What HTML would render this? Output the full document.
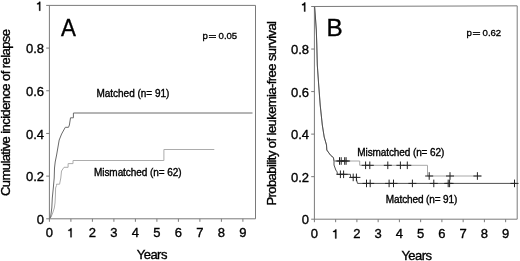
<!DOCTYPE html>
<html><head><meta charset="utf-8"><style>
html,body{margin:0;padding:0;background:#fff;width:520px;height:261px;overflow:hidden}
svg{display:block}
#w{will-change:transform;width:520px;height:261px;background:#fff}
</style></head><body><div id="w">
<svg width="520" height="261" viewBox="0 0 520 261" font-family='"Liberation Sans", sans-serif' fill="#000">
<style>.t{stroke:#000;stroke-width:0.35px}</style>
<rect width="520" height="261" fill="#fff"/>
<path d="M46.2 5.4L255.5 5.4V218.8M46.2 218.8H255.5M49.4 5.4V221.8" stroke="#7a7a7a" stroke-width="1" fill="none"/>
<path d="M46.2 176.12H49.4M46.2 133.44H49.4M46.2 90.76H49.4M46.2 48.08H49.4M70.9 218.8V221.8M92.4 218.8V221.8M113.9 218.8V221.8M135.4 218.8V221.8M156.9 218.8V221.8M178.4 218.8V221.8M199.9 218.8V221.8M221.4 218.8V221.8M242.9 218.8V221.8" stroke="#7a7a7a" stroke-width="1" fill="none"/>
<g class="t">
<text x="44" y="224.1" text-anchor="end" font-size="13">0</text>
<text x="44" y="181.42" text-anchor="end" font-size="13">0.2</text>
<text x="44" y="138.74" text-anchor="end" font-size="13">0.4</text>
<text x="44" y="96.06" text-anchor="end" font-size="13">0.6</text>
<text x="44" y="53.38" text-anchor="end" font-size="13">0.8</text>
<path d="M39.16 10.7H40.26V1.73H39.29C38.9 2.77 37.79 3.42 37.01 3.49V4.33H39.16Z"/>
<text x="49.4" y="237.2" text-anchor="middle" font-size="13">0</text>
<path d="M70.47 237.2H71.58V228.23H70.6C70.21 229.27 69.11 229.92 68.33 229.99V230.83H70.47Z"/>
<text x="92.4" y="237.2" text-anchor="middle" font-size="13">2</text>
<text x="113.9" y="237.2" text-anchor="middle" font-size="13">3</text>
<text x="135.4" y="237.2" text-anchor="middle" font-size="13">4</text>
<text x="156.9" y="237.2" text-anchor="middle" font-size="13">5</text>
<text x="178.4" y="237.2" text-anchor="middle" font-size="13">6</text>
<text x="199.9" y="237.2" text-anchor="middle" font-size="13">7</text>
<text x="221.4" y="237.2" text-anchor="middle" font-size="13">8</text>
<text x="242.9" y="237.2" text-anchor="middle" font-size="13">9</text>
<text transform="translate(10.2 112.5) rotate(-90)" text-anchor="middle" font-size="13" textLength="167">Cumulative incidence of relapse</text>
</g>
<g class="t">
<text transform="translate(61 36) scale(0.93 1)" font-size="24">A</text>
<g style="stroke-width:0.32px">
<text x="202.6" y="39.1" font-size="9.6">p</text>
<path d="M208.9 35.5H216M208.9 37.5H216" stroke-width="0.9"/>
<text x="218.6" y="39.1" font-size="9.6" textLength="18.6">0.05</text>
</g>
<text x="96.5" y="96.6" font-size="10" textLength="72.8">Matched (n= 91)</text>
<text x="94" y="175.6" font-size="10" textLength="87.5">Mismatched (n= 62)</text>
<text x="136.8" y="258.5" font-size="13" textLength="30.6">Years</text>
</g>
<polyline points="49.5,219 51,217 52.7,213 54.3,208 55,203 55.4,196 55.6,188 56.5,185.5 56.5,184.2 59.6,184.2 59.8,183 60.8,178 61.5,171 64,167.3 68.1,167.3 68.1,163.6 73,163.6 73,160.5 163.9,160.5 163.9,149.5 214.3,149.5" fill="none" stroke="#acacac" stroke-width="1"/>
<polyline points="49.5,219 50.6,217 51.8,208 52.3,198 53.3,188 54.2,178 54.5,168 55.2,162 56.6,155 59.2,140 61.6,134 65.3,127.3 68.5,127.3 69.4,125 70.5,117.8 73.4,117.8 73.4,113 252.5,113" fill="none" stroke="#6a6a6a" stroke-width="1"/>
<path d="M311.2 6.5L517.2 5.85V219.2M311.2 219.2H517.2M314.4 6.5V222.2" stroke="#7a7a7a" stroke-width="1" fill="none"/>
<path d="M311.2 176.66H314.4M311.2 134.12H314.4M311.2 91.58H314.4M311.2 49.04H314.4M335.65 219.2V222.2M356.9 219.2V222.2M378.15 219.2V222.2M399.4 219.2V222.2M420.65 219.2V222.2M441.9 219.2V222.2M463.15 219.2V222.2M484.4 219.2V222.2M505.65 219.2V222.2" stroke="#7a7a7a" stroke-width="1" fill="none"/>
<g class="t">
<text x="309" y="224.2" text-anchor="end" font-size="13">0</text>
<text x="309" y="181.66" text-anchor="end" font-size="13">0.2</text>
<text x="309" y="139.12" text-anchor="end" font-size="13">0.4</text>
<text x="309" y="96.58" text-anchor="end" font-size="13">0.6</text>
<text x="309" y="54.04" text-anchor="end" font-size="13">0.8</text>
<path d="M304.16 11.5H305.26V2.53H304.29C303.9 3.57 302.79 4.22 302.01 4.29V5.13H304.16Z"/>
<text x="314.4" y="238.4" text-anchor="middle" font-size="13">0</text>
<path d="M335.22 238.4H336.33V229.43H335.35C334.96 230.47 333.86 231.12 333.08 231.19V232.03H335.22Z"/>
<text x="356.9" y="238.4" text-anchor="middle" font-size="13">2</text>
<text x="378.15" y="238.4" text-anchor="middle" font-size="13">3</text>
<text x="399.4" y="238.4" text-anchor="middle" font-size="13">4</text>
<text x="420.65" y="238.4" text-anchor="middle" font-size="13">5</text>
<text x="441.9" y="238.4" text-anchor="middle" font-size="13">6</text>
<text x="463.15" y="238.4" text-anchor="middle" font-size="13">7</text>
<text x="484.4" y="238.4" text-anchor="middle" font-size="13">8</text>
<text x="505.65" y="238.4" text-anchor="middle" font-size="13">9</text>
<text transform="translate(275.7 113.3) rotate(-90)" text-anchor="middle" font-size="13" textLength="184.5">Probability of leukemia-free survival</text>
</g>
<g class="t">
<text transform="translate(326.5 35.7) scale(1.04 1)" font-size="23.3">B</text>
<g style="stroke-width:0.32px">
<text x="466.6" y="36.3" font-size="9.6">p</text>
<path d="M472.8 32.5H480.1M472.8 34.5H480.1" stroke-width="0.9"/>
<text x="482.6" y="36.3" font-size="9.6" textLength="18.5">0.62</text>
</g>
<text x="357.3" y="155.8" font-size="10" textLength="87">Mismatched (n= 62)</text>
<text x="385.8" y="202.8" font-size="10" textLength="71.5">Matched (n= 91)</text>
<text x="401.4" y="259.5" font-size="13" textLength="30.6">Years</text>
</g>
<polyline points="314.6,6.5 315.6,20 316.3,30 316.8,45 317.3,65 318.7,85 320.2,105 322.3,125 324.2,137 326.5,145 326.8,150 328.2,152 330.8,155.5 333.4,157.5 334,161 335.7,161 359.7,161 359.7,165.3 427.5,165.3 427.5,176 481.6,176" fill="none" stroke="#a8a8a8" stroke-width="1"/>
<polyline points="314.6,6.5 315.6,20 316.3,30 316.8,45 317.3,65 318.7,85 320.2,105 322.3,125 324.2,137 326.5,145 326.8,150 328.2,152 330.8,155.5 333.4,157.5 334,161 334,165 335.8,170 337.2,172 337.2,174.3 350.5,174.3 350.5,177.4 356.4,177.4 356.6,180 357.5,183.4 516.5,183.4" fill="none" stroke="#505050" stroke-width="1"/>
<path d="M339.5 157.2V164.8M335.5 161H343.5M341.2 157.2V164.8M337.2 161H345.2M344.7 157.2V164.8M340.7 161H348.7M346.1 157.2V164.8M342.1 161H350.1M365.6 161.5V169.1M361.6 165.3H369.6M369.8 161.5V169.1M365.8 165.3H373.8M387.8 161.5V169.1M383.8 165.3H391.8M400.4 161.5V169.1M396.4 165.3H404.4M407.3 161.5V169.1M403.3 165.3H411.3M429.2 172.2V179.8M425.2 176H433.2M450 172.2V179.8M446 176H454M477.4 172.2V179.8M473.4 176H481.4M340.4 170.5V178.1M336.4 174.3H344.4M343.6 170.5V178.1M339.6 174.3H347.6M353.2 173.6V181.2M349.2 177.4H357.2M356.4 173.6V181.2M352.4 177.4H360.4M366.5 179.6V187.2M362.5 183.4H370.5M370.2 179.6V187.2M366.2 183.4H374.2M389.1 179.6V187.2M385.1 183.4H393.1M393.5 179.6V187.2M389.5 183.4H397.5M412.4 179.6V187.2M408.4 183.4H416.4M433.8 179.6V187.2M429.8 183.4H437.8M448.2 179.6V187.2M444.2 183.4H452.2M449.6 179.6V187.2M445.6 183.4H453.6M514.5 179.6V187.2M510.5 183.4H518.5" stroke="#222" stroke-width="1" fill="none"/>
</svg>
</div></body></html>
